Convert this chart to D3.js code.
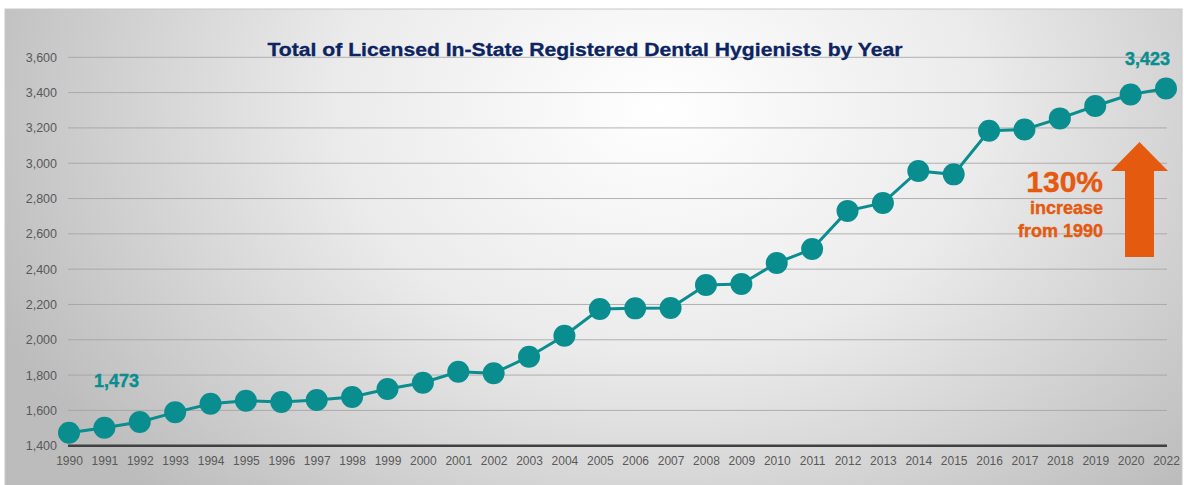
<!DOCTYPE html>
<html>
<head>
<meta charset="utf-8">
<script src="https://cdn.jsdelivr.net/npm/d3@7"></script>
<style>
  body { margin: 0; background: #fff; }
  svg { display: block; }
  text { font-family: "Liberation Sans", Arial, sans-serif; }
</style>
</head>
<body>
<div id="chart-container"></div>
<script>
// data
const years = ["1990", "1991", "1992", "1993", "1994", "1995", "1996", "1997", "1998", "1999",
    "2000", "2001", "2002", "2003", "2004", "2005", "2006", "2007", "2008", "2009",
    "2010", "2011", "2012", "2013", "2014", "2015", "2016", "2017", "2018", "2019",
    "2020", "2022"];
const hygienists = [1473, 1502, 1534, 1589, 1638, 1655, 1648, 1659, 1676, 1721,
    1757, 1819, 1810, 1904, 2023, 2174, 2178, 2180, 2310, 2316,
    2435, 2514, 2730, 2775, 2956, 2937, 3184, 3191, 3254, 3324,
    3389, 3423];
const yTicks = [1400, 1600, 1800, 2000, 2200, 2400, 2600, 2800, 3000, 3200, 3400, 3600];
const noteLines = ["130%", "increase", "from 1990"];

const W = 1184, H = 485;
const teal = '#0a8d8e';
const orange = '#e45a0f';

const svg = d3.select('#chart-container')
    .append('svg')
    .attr('width', W)
    .attr('height', H);

// panel background: soft radial gradient, bright at the top middle
const defs = svg.append('defs');
const grad = defs.append('radialGradient')
    .attr('id', 'bg')
    .attr('gradientUnits', 'userSpaceOnUse')
    .attr('cx', 660).attr('cy', 110)
    .attr('r', 720)
    .attr('gradientTransform', 'translate(660,110) scale(1,0.75) translate(-660,-110)');
grad.append('stop').attr('offset', '0%').attr('stop-color', '#ffffff');
grad.append('stop').attr('offset', '45%').attr('stop-color', '#ebebeb');
grad.append('stop').attr('offset', '100%').attr('stop-color', '#bcbcbc');

svg.append('rect')
    .attr('x', 5).attr('y', 9)
    .attr('width', 1177).attr('height', 480)
    .attr('fill', 'url(#bg)')
    .attr('stroke', '#c8c8c8')
    .attr('stroke-width', 1);

// scales
const x = d3.scalePoint()
    .domain(years)
    .range([69, 1166]);

const y = d3.scaleLinear()
    .domain([1400, 3600])
    .range([445.7, 57.3]);

// horizontal grid lines
svg.append('g')
    .selectAll('line')
    .data(yTicks.filter(t => t > 1400))
    .enter()
    .append('line')
    .attr('x1', 68).attr('x2', 1167)
    .attr('y1', d => y(d)).attr('y2', d => y(d))
    .attr('stroke', '#a0a0a0')
    .attr('stroke-opacity', 0.8)
    .attr('stroke-width', 1);

// Y axis labels
const yAxis = svg.append('g')
    .attr('transform', 'translate(68,0)')
    .call(d3.axisLeft(y).tickValues(yTicks).tickFormat(d3.format(',')).tickSize(0).tickPadding(11));
yAxis.select('.domain').remove();
yAxis.selectAll('text')
    .attr('font-size', 12.5)
    .attr('fill', '#595959')
    .attr('font-family', '"Liberation Sans", Arial, sans-serif');

// X axis with the dark base line
const xAxis = svg.append('g')
    .attr('transform', `translate(0,${y(1400)})`)
    .call(d3.axisBottom(x).tickSize(0).tickPadding(11));
xAxis.select('.domain')
    .attr('d', 'M68,0H1167')
    .attr('stroke', '#404040')
    .attr('stroke-width', 2.5);
xAxis.selectAll('text')
    .attr('font-size', 12)
    .attr('fill', '#595959')
    .attr('font-family', '"Liberation Sans", Arial, sans-serif');

// line + dots
svg.append('path')
    .datum(hygienists)
    .attr('fill', 'none')
    .attr('stroke', teal)
    .attr('stroke-width', 3)
    .attr('d', d3.line()
        .x((d, i) => x(years[i]))
        .y(d => y(d)));

svg.append('g')
    .selectAll('circle')
    .data(hygienists)
    .enter()
    .append('circle')
    .attr('cx', (d, i) => x(years[i]))
    .attr('cy', d => y(d))
    .attr('r', 11)
    .attr('fill', teal);

// title
svg.append('text')
    .attr('x', 585).attr('y', 56)
    .attr('text-anchor', 'middle')
    .attr('font-size', 18)
    .attr('font-weight', 'bold')
    .attr('fill', '#0c2462')
    .attr('stroke', '#0c2462')
    .attr('stroke-width', 0.3)
    .attr('textLength', 635)
    .attr('lengthAdjust', 'spacingAndGlyphs')
    .text('Total of Licensed In-State Registered Dental Hygienists by Year');

// value callouts for first and last year
const first = hygienists[0], last = hygienists[hygienists.length - 1];
svg.append('text')
    .attr('x', x(years[0]) + 25).attr('y', y(first) - 46)
    .attr('font-size', 18)
    .attr('font-weight', 'bold')
    .attr('fill', teal)
    .attr('stroke', teal)
    .attr('stroke-width', 0.4)
    .text(d3.format(',')(first));
svg.append('text')
    .attr('x', x(years[years.length - 1]) + 4).attr('y', y(last) - 24)
    .attr('text-anchor', 'end')
    .attr('font-size', 18)
    .attr('font-weight', 'bold')
    .attr('fill', teal)
    .attr('stroke', teal)
    .attr('stroke-width', 0.4)
    .text(d3.format(',')(last));

// percent increase note
const note = svg.append('g')
    .attr('fill', orange)
    .attr('stroke', orange)
    .attr('stroke-width', 0.4)
    .attr('font-weight', 'bold')
    .attr('text-anchor', 'end');
note.append('text').attr('x', 1103).attr('y', 192).attr('font-size', 30).text(noteLines[0]);
note.append('text').attr('x', 1103).attr('y', 214).attr('font-size', 18).text(noteLines[1]);
note.append('text').attr('x', 1103).attr('y', 237).attr('font-size', 18).text(noteLines[2]);

// up arrow
svg.append('path')
    .attr('d', 'M1139.5,142 L1168,171 L1154,171 L1154,257 L1125,257 L1125,171 L1111,171 Z')
    .attr('fill', orange);
</script>
</body>
</html>
